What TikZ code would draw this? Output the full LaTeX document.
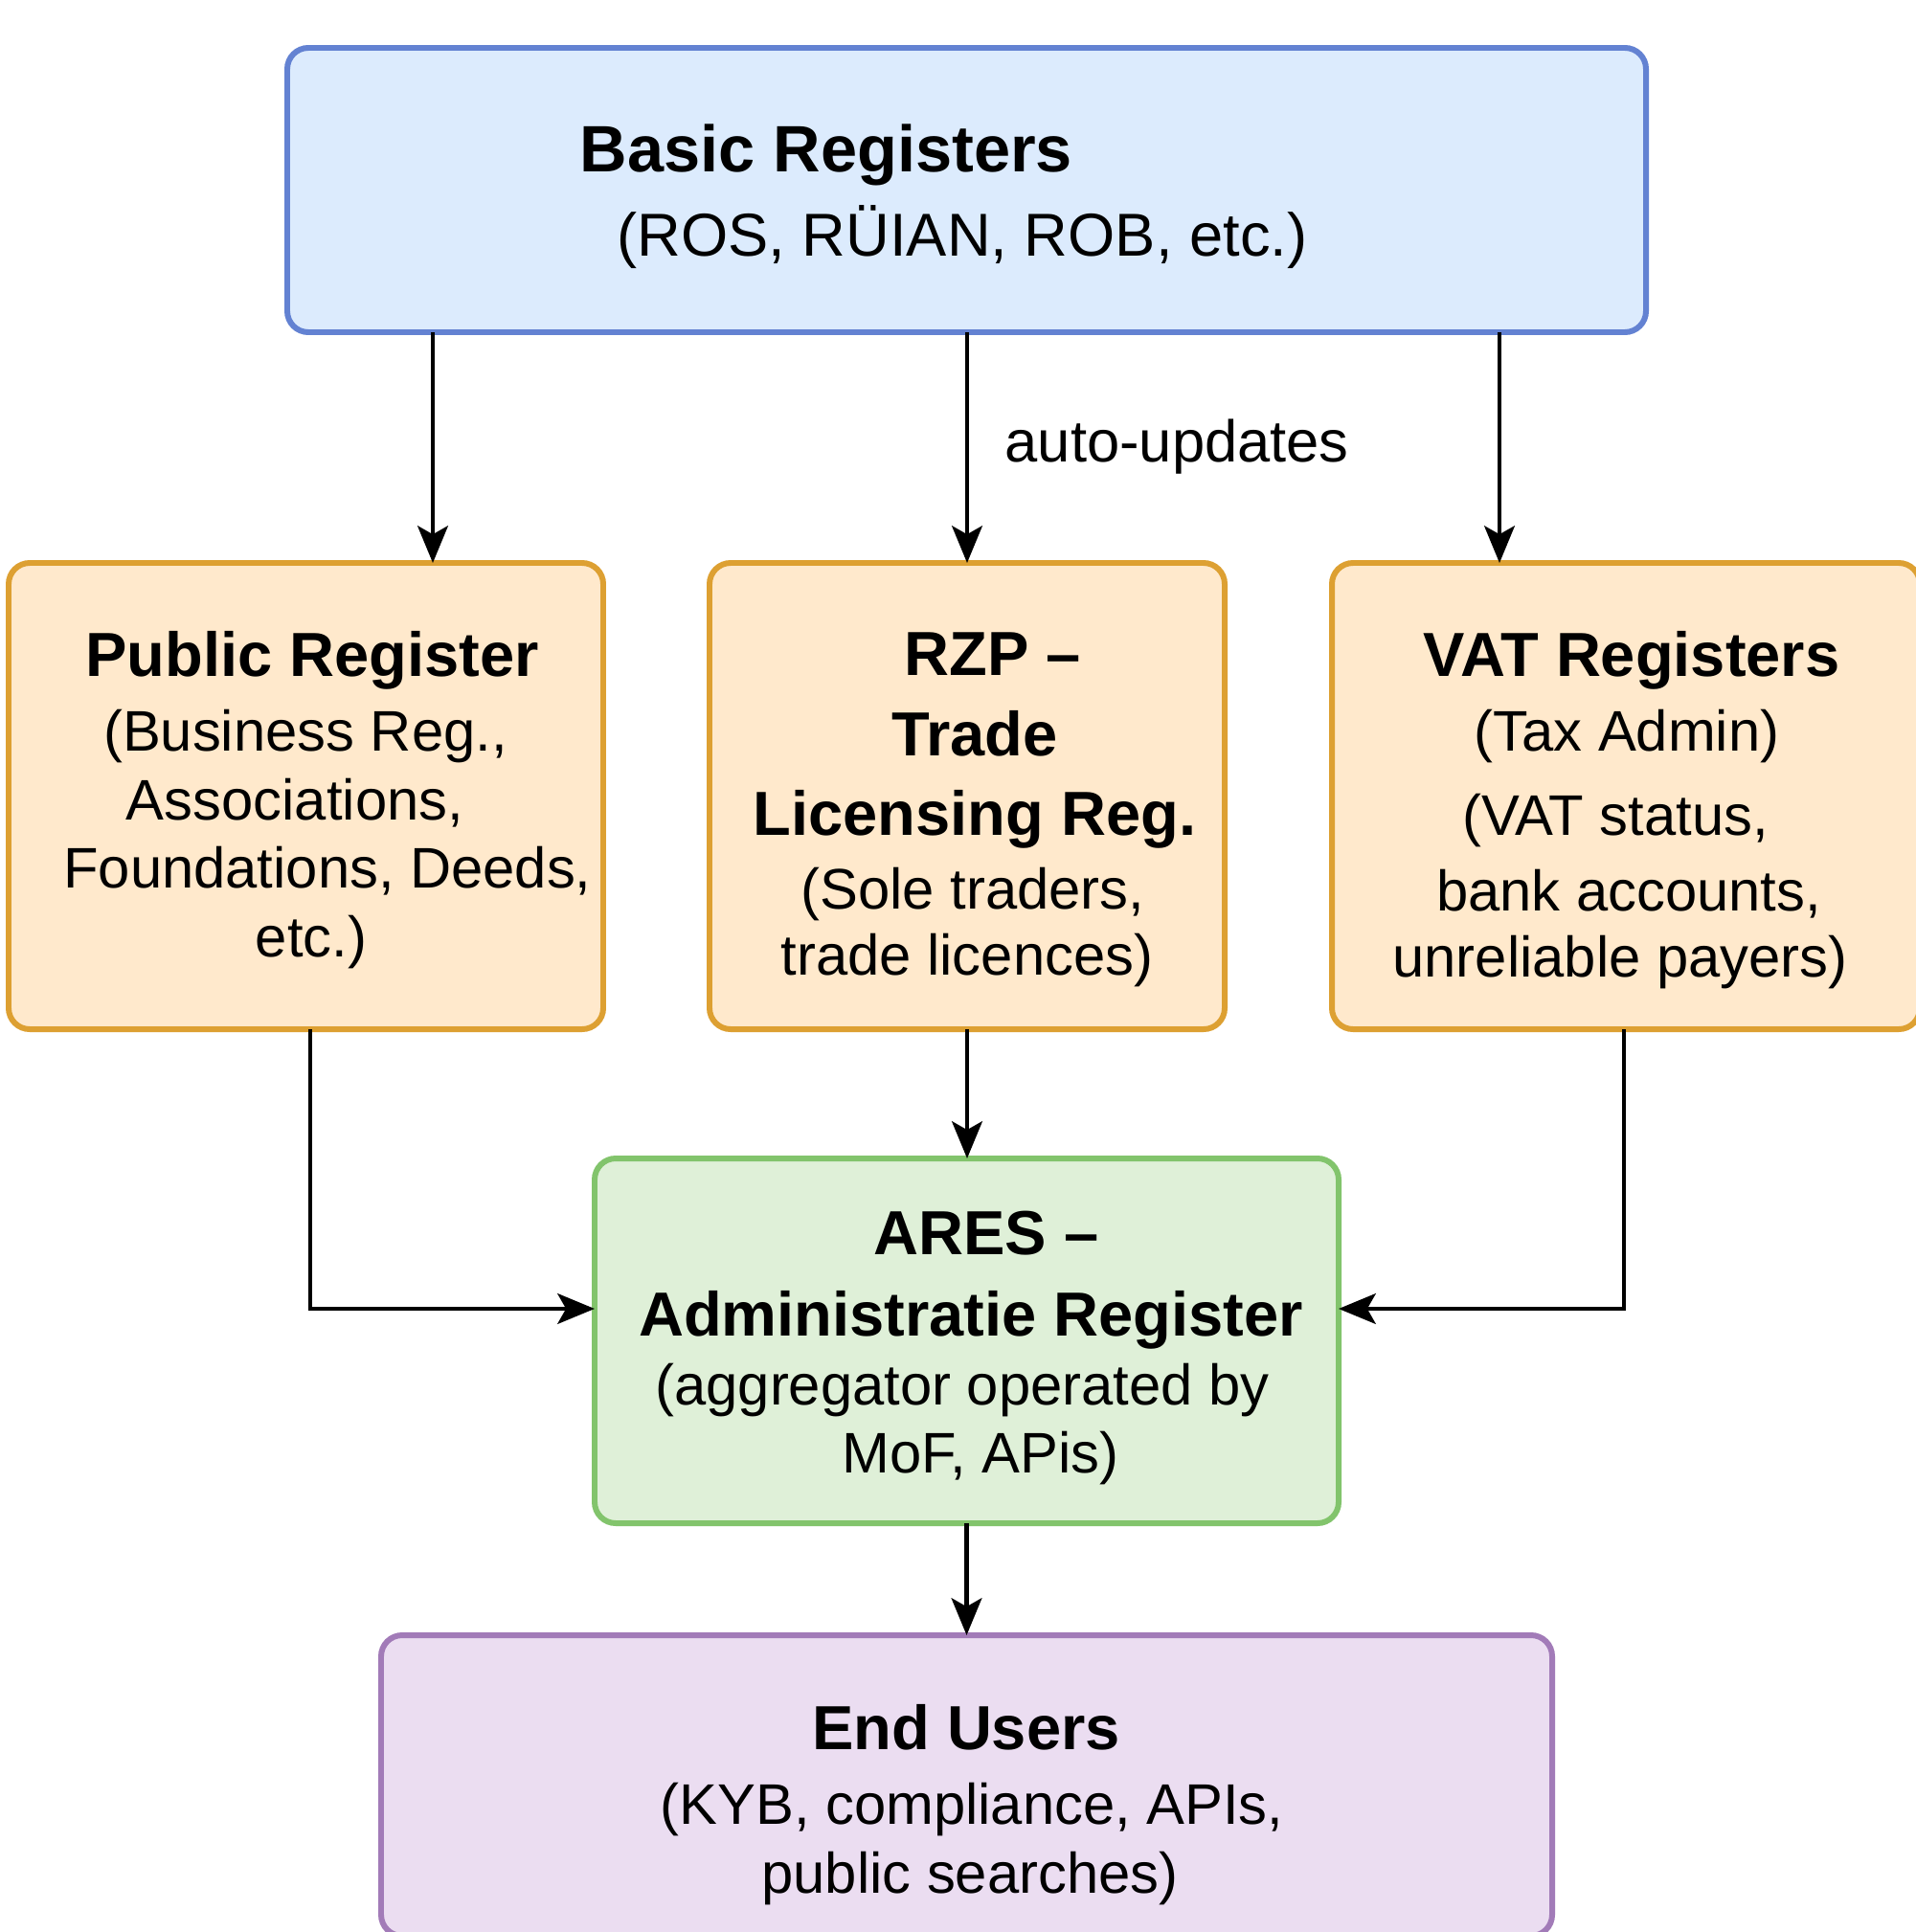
\documentclass[tikz,border=0pt]{standalone}
\usepackage{fontspec}
\setmainfont{Liberation Sans}
\usetikzlibrary{arrows.meta}
\definecolor{bluefill}{HTML}{DCEBFD}
\definecolor{blueline}{HTML}{6382D2}
\definecolor{orfill}{HTML}{FFE9CC}
\definecolor{orline}{HTML}{DDA032}
\definecolor{grfill}{HTML}{DFF0D8}
\definecolor{grline}{HTML}{82C46C}
\definecolor{pufill}{HTML}{EBDDF1}
\definecolor{puline}{HTML}{A27BB8}
\tikzset{
  box/.style={draw, rectangle, rounded corners=0.22cm, line width=1.7pt, inner sep=0pt, outer sep=0pt},
  ttl/.style={anchor=base, inner sep=0pt, font=\fontsize{18.5pt}{22pt}\selectfont\bfseries},
  txt/.style={anchor=base, inner sep=0pt, font=\fontsize{17pt}{20pt}\selectfont},
  arr/.style={-{Stealth[length=11pt, width=9pt, inset=2.5pt]}, line width=1.4pt, black}
}
\begin{document}
\begin{tikzpicture}
\useasboundingbox (0,0) rectangle (20,-20.18);
\fill[white] (0,0) rectangle (20,-20.18);
% boxes
\node[box, draw=blueline, fill=bluefill, minimum width=14.19cm, minimum height=2.97cm] (basic) at (10.095,-1.985) {};
\node[box, draw=orline, fill=orfill, minimum width=6.21cm, minimum height=4.87cm] (pub) at (3.195,-8.315) {};
\node[box, draw=orline, fill=orfill, minimum width=5.38cm, minimum height=4.87cm] (rzp) at (10.10,-8.315) {};
\node[box, draw=orline, fill=orfill, minimum width=6.14cm, minimum height=4.87cm] (vat) at (16.98,-8.315) {};
\node[box, draw=grline, fill=grfill, minimum width=7.77cm, minimum height=3.81cm] (ares) at (10.095,-14.005) {};
\node[box, draw=puline, fill=pufill, minimum width=12.23cm, minimum height=3.14cm] (end) at (10.095,-18.65) {};
% texts
\node[ttl, font=\fontsize{19.5pt}{23pt}\selectfont\bfseries] (basic1) at (8.63,-1.80) {Basic Registers};
\node[txt, font=\fontsize{18pt}{21pt}\selectfont] (basic2) at (10.05,-2.68) {(ROS, RÜIAN, ROB, etc.)};
\node[ttl] (pub1) at (3.26,-7.06) {Public Register};
\node[txt] (pub2) at (3.19,-7.84) {(Business Reg.,};
\node[txt] (pub3) at (3.08,-8.56) {Associations,};
\node[txt] (pub4) at (3.42,-9.27) {Foundations, Deeds,};
\node[txt] (pub5) at (3.25,-9.99) {etc.)};
\node[ttl] (rzp1) at (10.37,-7.05) {RZP –};
\node[ttl] (rzp2) at (10.18,-7.89) {Trade};
\node[ttl] (rzp3) at (10.18,-8.72) {Licensing Reg.};
\node[txt] (rzp4) at (10.16,-9.49) {(Sole traders,};
\node[txt] (rzp5) at (10.10,-10.18) {trade licences)};
\node[ttl] (vat1) at (17.04,-7.06) {VAT Registers};
\node[txt] (vat2) at (16.99,-7.84) {(Tax Admin)};
\node[txt] (vat3) at (16.87,-8.72) {(VAT status,};
\node[txt] (vat4) at (17.01,-9.51) {bank accounts,};
\node[txt] (vat5) at (16.92,-10.20) {unreliable payers)};
\node[ttl] (ares1) at (10.30,-13.10) {ARES –};
\node[ttl] (ares2) at (10.14,-13.95) {Administratie Register};
\node[txt] (ares3) at (10.05,-14.67) {(aggregator operated by};
\node[txt] (ares4) at (10.24,-15.38) {MoF, APis)};
\node[ttl] (end1) at (10.09,-18.27) {End Users};
\node[txt] (end2) at (10.15,-19.05) {(KYB, compliance, APIs,};
\node[txt] (end3) at (10.13,-19.77) {public searches)};
\node[txt, anchor=base west, font=\fontsize{17.5pt}{21pt}\selectfont] (lbl) at (10.49,-4.82) {auto-updates};
% helper coordinates
\coordinate (xa) at (4.52,0);
\coordinate (xc) at (15.66,0);
\coordinate (xp) at (3.24,0);
\coordinate (xv) at (16.96,0);
\coordinate (yh) at (0,-13.67);
% connectors
\draw[arr] (basic.south -| xa) -- (pub.north -| xa);
\draw[arr] (basic.south -| rzp.north) -- (rzp.north);
\draw[arr] (basic.south -| xc) -- (vat.north -| xc);
\draw[arr] (pub.south -| xp) |- (ares.west |- yh);
\draw[arr] (vat.south -| xv) |- (ares.east |- yh);
\draw[arr] (rzp.south) -- (rzp.south |- ares.north);
\draw[arr] (ares.south) -- (ares.south |- end.north);
\end{tikzpicture}
\end{document}
